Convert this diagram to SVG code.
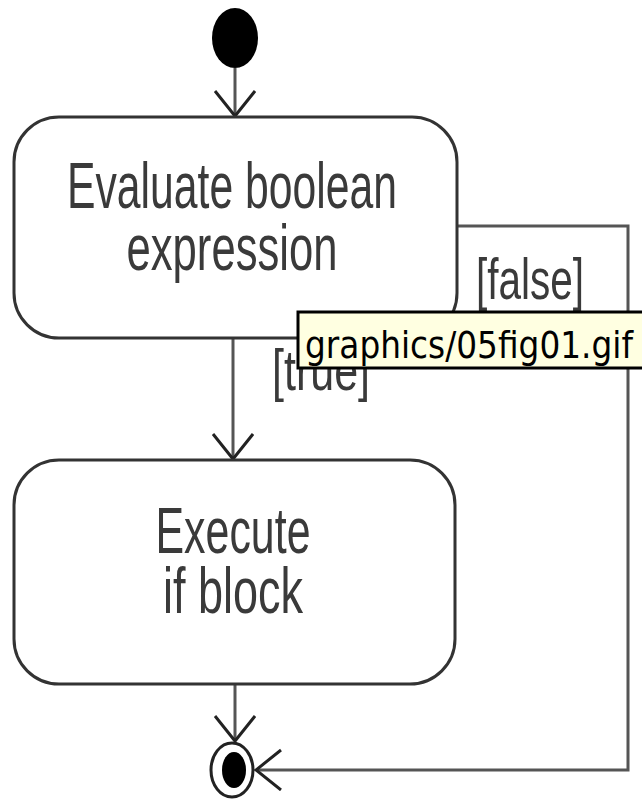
<svg xmlns="http://www.w3.org/2000/svg" width="642" height="803" viewBox="0 0 642 803">
<style>
.box{fill:#fff;stroke:#333;stroke-width:3}
.line{fill:none;stroke:#555;stroke-width:3}
.lbl{font-family:"Liberation Sans",Arial,sans-serif;fill:#3a3a3a;text-anchor:middle}
.tip{font-family:"DejaVu Sans","Liberation Sans",sans-serif;fill:#000}
</style>
<defs>
<marker id="arr" markerWidth="30" markerHeight="44" refX="26" refY="21" orient="auto" markerUnits="userSpaceOnUse" viewBox="0 0 30 44">
<path d="M1,1 L26,21 L1,41" fill="none" stroke="#222" stroke-width="3"/>
</marker>
</defs>
<rect width="642" height="803" fill="#fff"/>
<g id="connectors">
<line class="line" x1="235" y1="68" x2="235" y2="116" marker-end="url(#arr)"/>
<line class="line" x1="233" y1="338" x2="233" y2="459" marker-end="url(#arr)"/>
<line class="line" x1="235" y1="684" x2="235" y2="741" marker-end="url(#arr)"/>
<polyline class="line" points="457,226 628,226 628,770 256,770" marker-end="url(#arr)"/>
<text class="lbl" x="530" y="299" font-size="58" textLength="108" lengthAdjust="spacingAndGlyphs">[false]</text>
<text class="lbl" x="321" y="390" font-size="58" textLength="98" lengthAdjust="spacingAndGlyphs">[true]</text>
</g>
<g id="start">
<ellipse cx="235" cy="38" rx="23" ry="30" fill="#000"/>
</g>
<g id="evaluate">
<rect class="box" x="14" y="117" width="443" height="221" rx="45" ry="45"/>
<text class="lbl" x="232" y="208" font-size="64" textLength="330" lengthAdjust="spacingAndGlyphs">Evaluate boolean</text>
<text class="lbl" x="232" y="270" font-size="64" textLength="211" lengthAdjust="spacingAndGlyphs">expression</text>
</g>
<g id="execute">
<rect class="box" x="14" y="460" width="441" height="224" rx="45" ry="45"/>
<text class="lbl" x="233" y="553" font-size="64" textLength="155" lengthAdjust="spacingAndGlyphs">Execute</text>
<text class="lbl" x="233" y="613" font-size="64" textLength="140" lengthAdjust="spacingAndGlyphs">if block</text>
</g>
<g id="end">
<ellipse cx="232" cy="770" rx="21" ry="27" fill="#fff" stroke="#222" stroke-width="3"/>
<ellipse cx="234" cy="770" rx="12" ry="18" fill="#000"/>
</g>
<g id="tooltip">
<rect x="298" y="312" width="346" height="56" fill="#ffffe1" stroke="#000" stroke-width="3"/>
<text class="tip" x="305" y="358" font-size="38" textLength="328" lengthAdjust="spacingAndGlyphs">graphics/05fig01.gif</text>
</g>
</svg>
